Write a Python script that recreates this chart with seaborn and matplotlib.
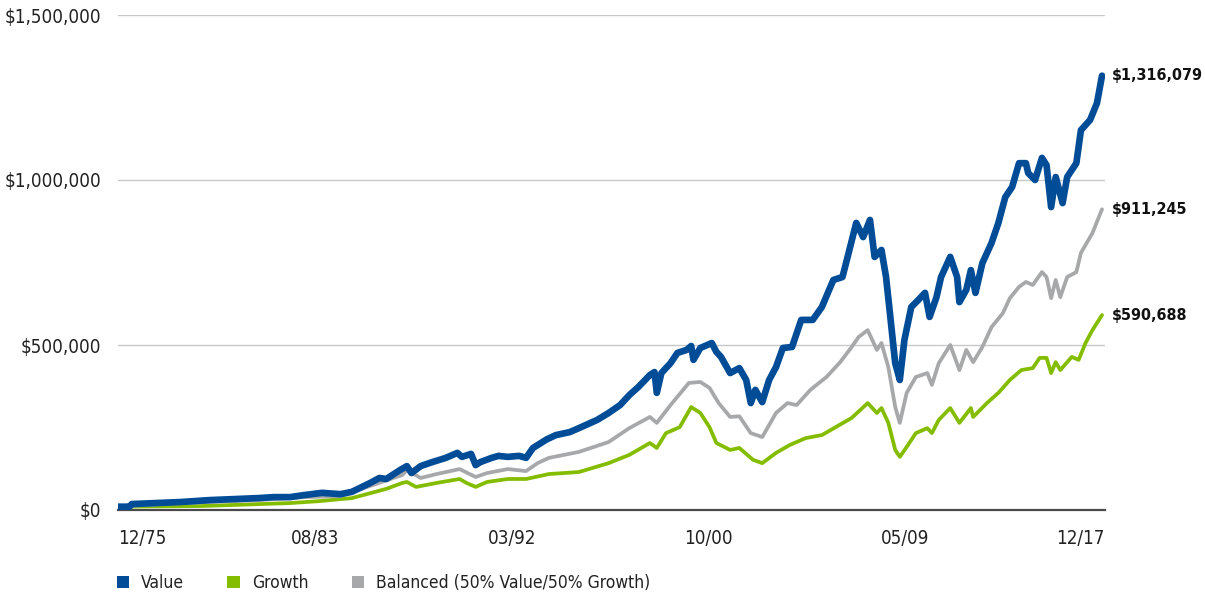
import numpy as np
import pandas as pd
import matplotlib
matplotlib.use("Agg")
import matplotlib.pyplot as plt
from matplotlib.patches import Patch
from matplotlib.ticker import FuncFormatter
import seaborn as sns

# growth of $10,000, values in $ thousands, x in decimal years
value_years = [1975.0, 1975.5, 1975.6, 1977.7, 1979.0, 1981.1, 1981.8, 1982.5, 1983.1, 1983.9,
               1984.7, 1985.2, 1986.0, 1986.4, 1986.7, 1987.3, 1987.6, 1987.8, 1988.2, 1988.7,
               1989.3, 1989.8, 1990.0, 1990.4, 1990.6, 1990.8, 1991.3, 1991.6, 1992.0, 1992.5,
               1992.8, 1993.1, 1993.7, 1994.1, 1994.7, 1995.1, 1995.9, 1996.4, 1996.9, 1997.3,
               1997.7, 1998.2, 1998.4, 1998.5, 1998.7, 1999.1, 1999.4, 1999.8, 2000.0, 2000.1,
               2000.4, 2000.9, 2001.1, 2001.3, 2001.7, 2002.1, 2002.4, 2002.6, 2002.8, 2003.1,
               2003.4, 2003.7, 2004.0, 2004.4, 2004.8, 2005.3, 2005.7, 2006.2, 2006.6, 2006.9,
               2007.2, 2007.5, 2007.8, 2008.0, 2008.3, 2008.5, 2008.7, 2008.9, 2009.1, 2009.3,
               2009.6, 2009.9, 2010.2, 2010.4, 2010.7, 2010.9, 2011.3, 2011.6, 2011.7, 2012.0,
               2012.2, 2012.4, 2012.7, 2013.1, 2013.4, 2013.7, 2014.0, 2014.3, 2014.6, 2014.7,
               2015.0, 2015.3, 2015.5, 2015.7, 2015.9, 2016.2, 2016.4, 2016.8, 2017.0, 2017.4,
               2017.7, 2017.92]
value_k = [10, 10, 18, 24, 30, 36, 39, 39, 45, 52,
           48, 55, 82, 97, 94, 121, 133, 112, 133, 145,
           158, 173, 161, 170, 136, 145, 158, 164, 161, 164,
           158, 188, 214, 227, 236, 248, 273, 294, 318, 348,
           373, 409, 418, 355, 415, 445, 476, 485, 497, 455,
           491, 506, 479, 464, 415, 430, 394, 324, 364, 327,
           394, 433, 491, 494, 576, 576, 615, 697, 706, 788,
           870, 827, 879, 767, 788, 706, 576, 445, 394, 515,
           615, 636, 658, 585, 645, 706, 767, 706, 630, 667,
           727, 658, 748, 809, 870, 948, 979, 1051, 1051, 1021,
           1000, 1067, 1045, 918, 1009, 930, 1009, 1051, 1151, 1182,
           1233, 1316.079]

balanced_years = [1975.0, 1977.7, 1981.1, 1983.1, 1984.7, 1986.0, 1987.4, 1987.6, 1988.2, 1988.9,
                  1989.9, 1990.6, 1991.1, 1992.0, 1992.8, 1993.3, 1993.8, 1995.1, 1996.4, 1997.3,
                  1998.2, 1998.5, 1999.1, 1999.9, 2000.4, 2000.8, 2001.2, 2001.7, 2002.1, 2002.6,
                  2003.1, 2003.7, 2004.2, 2004.6, 2005.2, 2005.9, 2006.5, 2007.0, 2007.3, 2007.7,
                  2008.1, 2008.3, 2008.6, 2008.9, 2009.1, 2009.4, 2009.8, 2010.3, 2010.5, 2010.8,
                  2011.3, 2011.7, 2012.0, 2012.3, 2012.7, 2013.1, 2013.6, 2013.9, 2014.3, 2014.6,
                  2014.9, 2015.3, 2015.5, 2015.7, 2015.9, 2016.1, 2016.4, 2016.8, 2017.0, 2017.5,
                  2017.92]
balanced_k = [10, 21, 30, 39, 42, 73, 106, 121, 97, 109,
              124, 100, 112, 124, 118, 142, 158, 176, 206, 248,
              282, 264, 318, 385, 388, 370, 324, 282, 284, 233,
              221, 294, 324, 318, 364, 403, 448, 494, 524, 545,
              485, 506, 433, 312, 264, 355, 403, 415, 379, 445,
              500, 424, 485, 448, 494, 554, 597, 642, 676, 691,
              682, 721, 706, 642, 697, 645, 706, 721, 779, 839,
              911.245]

growth_years = [1975.0, 1978.6, 1982.5, 1983.8, 1984.7, 1985.2, 1986.7, 1987.4, 1987.6, 1988.0,
                1988.9, 1989.9, 1990.2, 1990.6, 1991.1, 1992.0, 1992.8, 1993.4, 1993.8, 1995.1,
                1996.4, 1997.3, 1998.2, 1998.5, 1998.9, 1999.5, 2000.0, 2000.4, 2000.8, 2001.1,
                2001.7, 2002.1, 2002.7, 2003.1, 2003.7, 2004.3, 2005.0, 2005.7, 2006.3, 2007.0,
                2007.7, 2008.1, 2008.3, 2008.6, 2008.9, 2009.1, 2009.4, 2009.8, 2010.3, 2010.5,
                2010.8, 2011.3, 2011.7, 2012.2, 2012.3, 2012.9, 2013.4, 2013.9, 2014.4, 2014.9,
                2015.2, 2015.5, 2015.7, 2015.9, 2016.1, 2016.4, 2016.6, 2016.9, 2017.2, 2017.5,
                2017.92]
growth_k = [10, 12, 21, 27, 33, 36, 64, 82, 85, 70,
            82, 94, 82, 70, 85, 94, 94, 103, 109, 115,
            142, 167, 203, 188, 233, 251, 312, 294, 251, 203,
            182, 188, 152, 142, 173, 197, 218, 227, 251, 279,
            324, 294, 309, 264, 182, 161, 191, 233, 248, 233,
            273, 309, 264, 309, 282, 324, 355, 394, 424, 430,
            461, 461, 415, 448, 424, 448, 464, 455, 506, 545,
            590.688]

series_names = ["Value", "Growth", "Balanced (50% Value/50% Growth)"]
end_labels = ["$1,316,079", "$590,688", "$911,245"]
tick_years = [1975.0, 1983.58, 1992.17, 2000.75, 2009.33, 2018.05]
tick_labels = ["12/75", "08/83", "03/92", "10/00", "05/09", "12/17"]

colors = {"Value": "#004c97", "Growth": "#84bd00", "Balanced (50% Value/50% Growth)": "#a7a8aa"}

sns.set_style("white")
plt.rcParams["font.family"] = ["DejaVu Sans"]
plt.rcParams["font.stretch"] = "condensed"

fig = plt.figure(figsize=(12.05, 5.93), dpi=100)
ax = fig.add_axes([118 / 1205, 1 - 510 / 593, 987 / 1205, 495 / 593])

dfs = {
    "Value": pd.DataFrame({"year": value_years, "amount": np.array(value_k) * 1000}),
    "Growth": pd.DataFrame({"year": growth_years, "amount": np.array(growth_k) * 1000}),
    "Balanced (50% Value/50% Growth)": pd.DataFrame({"year": balanced_years, "amount": np.array(balanced_k) * 1000}),
}

widths = {"Value": 4.8, "Growth": 2.7, "Balanced (50% Value/50% Growth)": 2.7}
for name in ["Growth", "Balanced (50% Value/50% Growth)", "Value"]:
    sns.lineplot(data=dfs[name], x="year", y="amount", ax=ax, color=colors[name],
                 linewidth=widths[name], solid_joinstyle="round", solid_capstyle="round", zorder=3)

ax.set_xlim(1975.0, 2018.05)
ax.set_ylim(0, 1500000)
ax.set_yticks([0, 500000, 1000000, 1500000])
ax.yaxis.set_major_formatter(FuncFormatter(lambda v, p: "${:,.0f}".format(v)))
ax.grid(axis="y", color="#c8c8c8", linewidth=1)
ax.set_axisbelow(True)
for s in ["top", "right", "left"]:
    ax.spines[s].set_visible(False)
ax.spines["bottom"].set_color("#4a4a4a")
ax.spines["bottom"].set_linewidth(1.6)
ax.set_xlabel("")
ax.set_ylabel("")
ax.tick_params(axis="y", length=0, pad=12, labelsize=13.5, labelcolor="#222222")
ax.tick_params(axis="x", length=0, pad=14, labelsize=13.5, labelcolor="#222222")
ax.set_xticks(tick_years)
ax.set_xticklabels(tick_labels)
xl = ax.get_xticklabels()
xl[0].set_ha("left")
xl[-1].set_ha("right")

# end value labels
for name, lab in zip(series_names, end_labels):
    last = dfs[name]["amount"].iloc[-1]
    ax.annotate(lab, xy=(1, last), xycoords=("axes fraction", "data"),
                xytext=(5, 0), textcoords="offset points", va="center", ha="left",
                fontsize=11.5, fontweight="bold", color="#111111", annotation_clip=False)

handles = [Patch(facecolor=colors[n], edgecolor="none") for n in series_names]
fig.legend(handles, series_names, loc="lower left", bbox_to_anchor=(101 / 1205, -0.025),
           ncol=3, frameon=False, fontsize=12.5, handlelength=0.7, handleheight=0.7,
           handletextpad=0.7, columnspacing=2.5, labelcolor="#222222")

fig.savefig("out.png", dpi=100)
